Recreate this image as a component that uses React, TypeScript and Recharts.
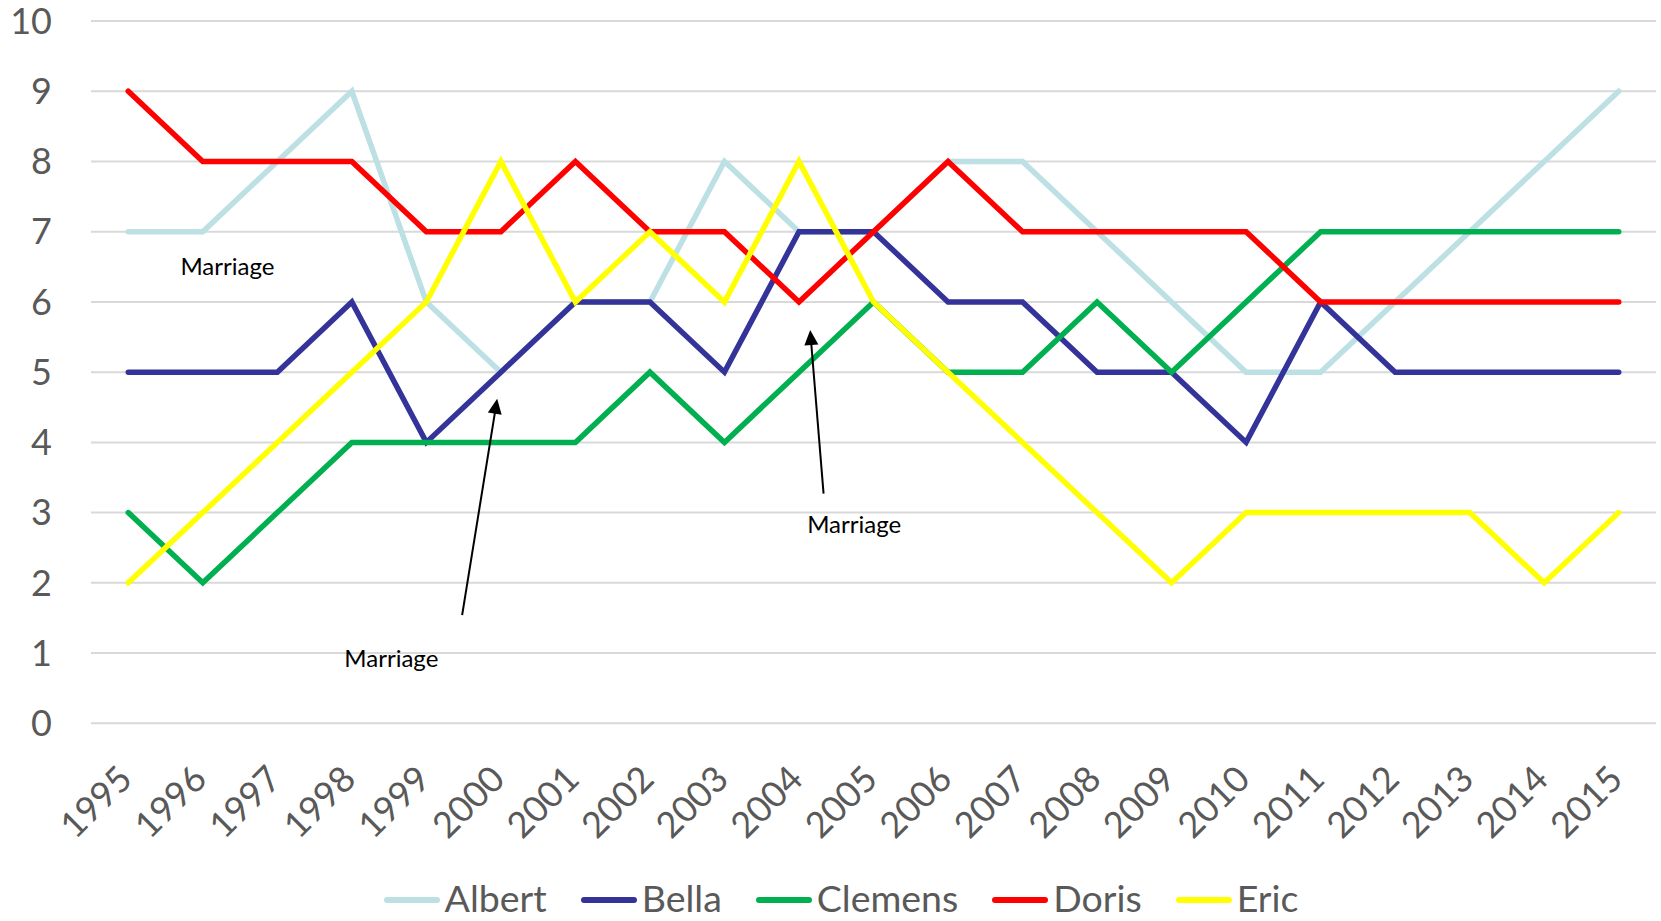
import React from 'react';
import { LineChart, Line, XAxis, YAxis, CartesianGrid, Legend } from 'recharts';

// ---------- data ----------
const years = ['1995', '1996', '1997', '1998', '1999', '2000', '2001', '2002', '2003', '2004', '2005',
  '2006', '2007', '2008', '2009', '2010', '2011', '2012', '2013', '2014', '2015'];
const albert = [7, 7, 8, 9, 6, 5, 6, 6, 8, 7, 7, 8, 8, 7, 6, 5, 5, 6, 7, 8, 9];
const bella = [5, 5, 5, 6, 4, 5, 6, 6, 5, 7, 7, 6, 6, 5, 5, 4, 6, 5, 5, 5, 5];
const clemens = [3, 2, 3, 4, 4, 4, 4, 5, 4, 5, 6, 5, 5, 6, 5, 6, 7, 7, 7, 7, 7];
const doris = [9, 8, 8, 8, 7, 7, 8, 7, 7, 6, 7, 8, 7, 7, 7, 7, 6, 6, 6, 6, 6];
const eric = [2, 3, 4, 5, 6, 8, 6, 7, 6, 8, 6, 5, 4, 3, 2, 3, 3, 3, 3, 2, 3];
const yTicks = [0, 1, 2, 3, 4, 5, 6, 7, 8, 9, 10];

const seriesNames = ['Albert', 'Bella', 'Clemens', 'Doris', 'Eric'];
const seriesValues = [albert, bella, clemens, doris, eric];
const seriesColors = ['#BCE0E3', '#333399', '#00B050', '#FF0000', '#FFFF00'];

// annotations in data units (category index, value)
const noteLabels = ['Marriage', 'Marriage', 'Marriage'];
const noteIdx = [1.33, 3.53, 9.74];
const noteValue = [6.38, 0.8, 2.71];
const arrowFromIdx = [4.48, 9.33];
const arrowFromValue = [1.54, 3.27];
const arrowToIdx = [4.95, 9.15];
const arrowToValue = [4.62, 5.6];

const data = years.map((y, i) => {
  const row: Record<string, string | number> = { year: y };
  seriesNames.forEach((n, s) => { row[n] = seriesValues[s][i]; });
  return row;
});

// ---------- layout ----------
const W = 1661;
const H = 921;
const M_TOP = 21;
const M_RIGHT = 5;
const Y_AXIS_W = 91;
const LEGEND_H = 42;
const X_AXIS_H = 155.7;
const PLOT_L = Y_AXIS_W;
const PLOT_R = W - M_RIGHT;
const PLOT_T = M_TOP;
const PLOT_B = H - LEGEND_H - X_AXIS_H;
const BAND = (PLOT_R - PLOT_L) / years.length;
const FONT = 'Lato, "Open Sans", sans-serif';
const TEXT_GRAY = '#595959';

const px = (idx: number) => PLOT_L + (idx + 0.5) * BAND;
const py = (v: number) => PLOT_B - (v / 10) * (PLOT_B - PLOT_T);

const XTick = (props: any) => {
  const { x, y, payload } = props;
  const tx = x + 6;
  const ty = y + 58;
  return (
    <text x={tx} y={ty} textAnchor="end" transform={`rotate(-45, ${tx}, ${ty})`}
      fontFamily={FONT} fontSize={36} fill={TEXT_GRAY}>
      {payload.value}
    </text>
  );
};

const LegendContent = () => (
  <div style={{
    height: LEGEND_H, display: 'flex', justifyContent: 'center', alignItems: 'center',
    paddingLeft: 26, boxSizing: 'border-box', fontFamily: FONT, fontSize: 37.5, color: TEXT_GRAY,
  }}>
    {seriesNames.map((n, i) => (
      <div key={n} style={{ display: 'flex', alignItems: 'center', marginRight: i < seriesNames.length - 1 ? 34 : 0 }}>
        <div style={{ width: 56, height: 6, borderRadius: 3, background: seriesColors[i], marginRight: 5 }} />
        <span style={{ lineHeight: `${LEGEND_H}px`, position: 'relative', top: -2 }}>{n}</span>
      </div>
    ))}
  </div>
);

const Arrow = ({ x1, y1, x2, y2 }: { x1: number; y1: number; x2: number; y2: number }) => {
  const dx = x2 - x1;
  const dy = y2 - y1;
  const len = Math.sqrt(dx * dx + dy * dy);
  const ux = dx / len;
  const uy = dy / len;
  const headL = 15;
  const headW = 7;
  const bx = x2 - ux * headL;
  const by = y2 - uy * headL;
  const nx = -uy;
  const ny = ux;
  return (
    <g>
      <line x1={x1} y1={y1} x2={bx + ux * 2} y2={by + uy * 2} stroke="#000" strokeWidth={2} />
      <polygon points={`${x2},${y2} ${bx + nx * headW},${by + ny * headW} ${bx - nx * headW},${by - ny * headW}`} fill="#000" />
    </g>
  );
};

export default function App() {
  return (
    <div style={{ position: 'absolute', left: 0, top: 0, width: W, height: H, background: '#fff' }}>
      <LineChart width={W} height={H} data={data} margin={{ top: M_TOP, right: M_RIGHT, left: 0, bottom: 0 }}>
        <CartesianGrid vertical={false} stroke="#D9D9D9" strokeWidth={2} />
        <XAxis dataKey="year" type="category" interval={0} axisLine={false} tickLine={false}
          tickSize={0} tickMargin={0} height={X_AXIS_H} padding={{ left: BAND / 2, right: BAND / 2 }}
          tick={<XTick />} />
        <YAxis domain={[0, 10]} ticks={yTicks} width={Y_AXIS_W} axisLine={false} tickLine={false}
          tickSize={0} tickMargin={39} interval={0}
          tick={{ fontSize: 36, fill: TEXT_GRAY, fontFamily: FONT }} />
        <Legend verticalAlign="bottom" height={LEGEND_H} content={<LegendContent />} />
        {seriesNames.map((n, i) => (
          <Line key={n} type="linear" dataKey={n} stroke={seriesColors[i]} strokeWidth={5.5}
            strokeLinecap="round" dot={false} activeDot={false} isAnimationActive={false} />
        ))}
      </LineChart>
      <svg width={W} height={H} style={{ position: 'absolute', left: 0, top: 0, pointerEvents: 'none' }}>
        {noteLabels.map((t, i) => (
          <text key={i} x={px(noteIdx[i])} y={py(noteValue[i])} textAnchor="middle"
            fontFamily={FONT} fontSize={24} fill="#000">{t}</text>
        ))}
        {arrowFromIdx.map((_, i) => (
          <Arrow key={i} x1={px(arrowFromIdx[i])} y1={py(arrowFromValue[i])}
            x2={px(arrowToIdx[i])} y2={py(arrowToValue[i])} />
        ))}
      </svg>
    </div>
  );
}
